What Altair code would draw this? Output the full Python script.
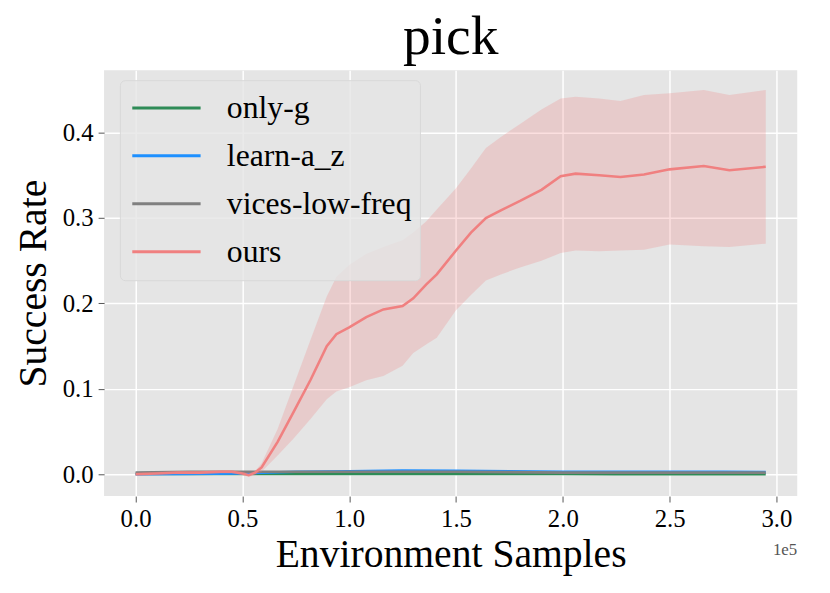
import altair as alt
import pandas as pd

# ---- data ----
series_names = ["only-g", "learn-a_z", "vices-low-freq", "ours"]
series_colors = ["#2E8B57", "#1E90FF", "#808080", "#F08080"]

x_ours = [0, 10000, 20000, 30000, 40000, 45000, 50000, 53000, 56000, 59000,
          66500, 74000, 82000, 89500, 94000, 100000, 108000, 116000, 125000, 130000,
          136000, 141000, 150000, 157000, 164000, 171000, 180000, 190000, 199000, 206000,
          217000, 227000, 238000, 250000, 266000, 278000, 295000]
ours_mean = [0.000, 0.001, 0.002, 0.002, 0.003, 0.003, 0.001, -0.001, 0.002, 0.008,
             0.038, 0.073, 0.111, 0.150, 0.164, 0.172, 0.184, 0.193, 0.197, 0.206,
             0.222, 0.234, 0.262, 0.283, 0.300, 0.309, 0.320, 0.333, 0.349, 0.352,
             0.350, 0.348, 0.351, 0.357, 0.361, 0.356, 0.360]
ours_hi = [0.002, 0.003, 0.004, 0.004, 0.005, 0.005, 0.003, 0.001, 0.004, 0.013,
           0.053, 0.104, 0.158, 0.208, 0.231, 0.245, 0.258, 0.266, 0.274, 0.283,
           0.296, 0.310, 0.335, 0.358, 0.382, 0.395, 0.410, 0.427, 0.440, 0.442,
           0.440, 0.437, 0.444, 0.446, 0.450, 0.444, 0.450]
ours_lo = [-0.002, -0.001, 0.000, 0.000, 0.001, 0.001, -0.001, -0.003, -0.001, 0.003,
           0.022, 0.042, 0.065, 0.088, 0.097, 0.102, 0.110, 0.115, 0.127, 0.142,
           0.152, 0.160, 0.192, 0.210, 0.227, 0.234, 0.242, 0.250, 0.259, 0.262,
           0.261, 0.262, 0.263, 0.269, 0.267, 0.266, 0.270]

x_base = [0, 25000, 50000, 75000, 100000, 125000, 150000, 175000, 200000,
          225000, 250000, 275000, 295000]
only_g = [0.0005, 0.0005, 0.0003, 0.0003, 0.0003, 0.0003, 0.0003, 0.0003,
          0.0003, 0.0002, 0.0002, 0.0002, 0.0002]
learn_az = [0.0000, 0.0003, 0.0010, 0.0030, 0.0035, 0.0045, 0.0040, 0.0035,
            0.0030, 0.0028, 0.0030, 0.0030, 0.0025]
vices = [0.0020, 0.0030, 0.0030, 0.0030, 0.0030, 0.0030, 0.0030, 0.0025,
         0.0020, 0.0020, 0.0020, 0.0020, 0.0020]

x_tick_values = [0, 50000, 100000, 150000, 200000, 250000, 300000]
y_tick_values = [0.0, 0.1, 0.2, 0.3, 0.4]

# ---- tables ----
rows = []
for name, vals in [("only-g", only_g), ("learn-a_z", learn_az), ("vices-low-freq", vices)]:
    for x, v in zip(x_base, vals):
        rows.append({"x": x, "y": v, "series": name})
others_df = pd.DataFrame(rows)
ours_df = pd.DataFrame({"x": x_ours, "y": ours_mean, "lo": ours_lo, "hi": ours_hi,
                        "series": "ours"})

FONT = "Liberation Serif"
W, H = 700, 430

xscale = alt.Scale(domain=[-14750, 309750], nice=False, zero=False)
yscale = alt.Scale(domain=[-0.0255, 0.473], nice=False, zero=False)
cscale = alt.Scale(domain=series_names, range=series_colors)

xaxis = alt.Axis(values=x_tick_values, labelExpr="format(datum.value/100000, '.1f')",
                 title="Environment Samples", grid=True)
yaxis = alt.Axis(values=y_tick_values, format=".1f", title="Success Rate", grid=True)

legend = alt.Legend(
    title=None, orient="none", legendX=16, legendY=10,
    symbolType="stroke", symbolSize=4761, symbolStrokeWidth=3, symbolOffset=3,
    labelFontSize=32, labelFont=FONT, labelColor="black", labelOffset=25,
    labelLimit=0, clipHeight=40, rowPadding=8.4,
    padding=8, fillColor="rgba(229,229,229,0.8)",
    strokeColor="#D9D9D9", cornerRadius=5,
)

others = alt.Chart(others_df).mark_line(strokeWidth=2.6).encode(
    x=alt.X("x:Q", scale=xscale, axis=xaxis),
    y=alt.Y("y:Q", scale=yscale, axis=yaxis),
    color=alt.Color("series:N", scale=cscale, legend=legend, sort=series_names),
)

band = alt.Chart(ours_df).mark_area(opacity=0.25, color="#F08080").encode(
    x=alt.X("x:Q", scale=xscale),
    y=alt.Y("lo:Q", scale=yscale),
    y2="hi:Q",
)

ours_line = alt.Chart(ours_df).mark_line(strokeWidth=2.6).encode(
    x=alt.X("x:Q", scale=xscale),
    y=alt.Y("y:Q", scale=yscale),
    color=alt.Color("series:N", scale=cscale, legend=legend, sort=series_names),
)

exp_text = alt.Chart(pd.DataFrame({"t": ["1e5"]})).mark_text(
    align="right", baseline="alphabetic", fontSize=17, font=FONT, color="#555555"
).encode(text="t:N", x=alt.value(W), y=alt.value(H + 60))

chart = alt.layer(others, band, ours_line, exp_text).properties(
    width=W, height=H,
    title=alt.TitleParams("pick", fontSize=56, font=FONT, fontWeight="normal",
                          color="black", anchor="middle", offset=4),
    autosize=alt.AutoSizeParams(type="none"),
    padding={"left": 97, "top": 60, "right": 25, "bottom": 95},
).configure_view(
    fill="#E5E5E5", strokeWidth=0
).configure_axis(
    domain=False, tickColor="#555555", tickSize=6, tickWidth=1,
    labelFont=FONT, labelFontSize=25, labelColor="black", labelPadding=5,
    titleFont=FONT, titleFontSize=40, titleFontWeight="normal", titleColor="black",
    gridColor="white", gridWidth=1.5,
).configure_axisX(
    titlePadding=3
).configure_axisY(
    titlePadding=9
)

chart.save("out.html", embed_options={"renderer": "svg", "actions": False})
